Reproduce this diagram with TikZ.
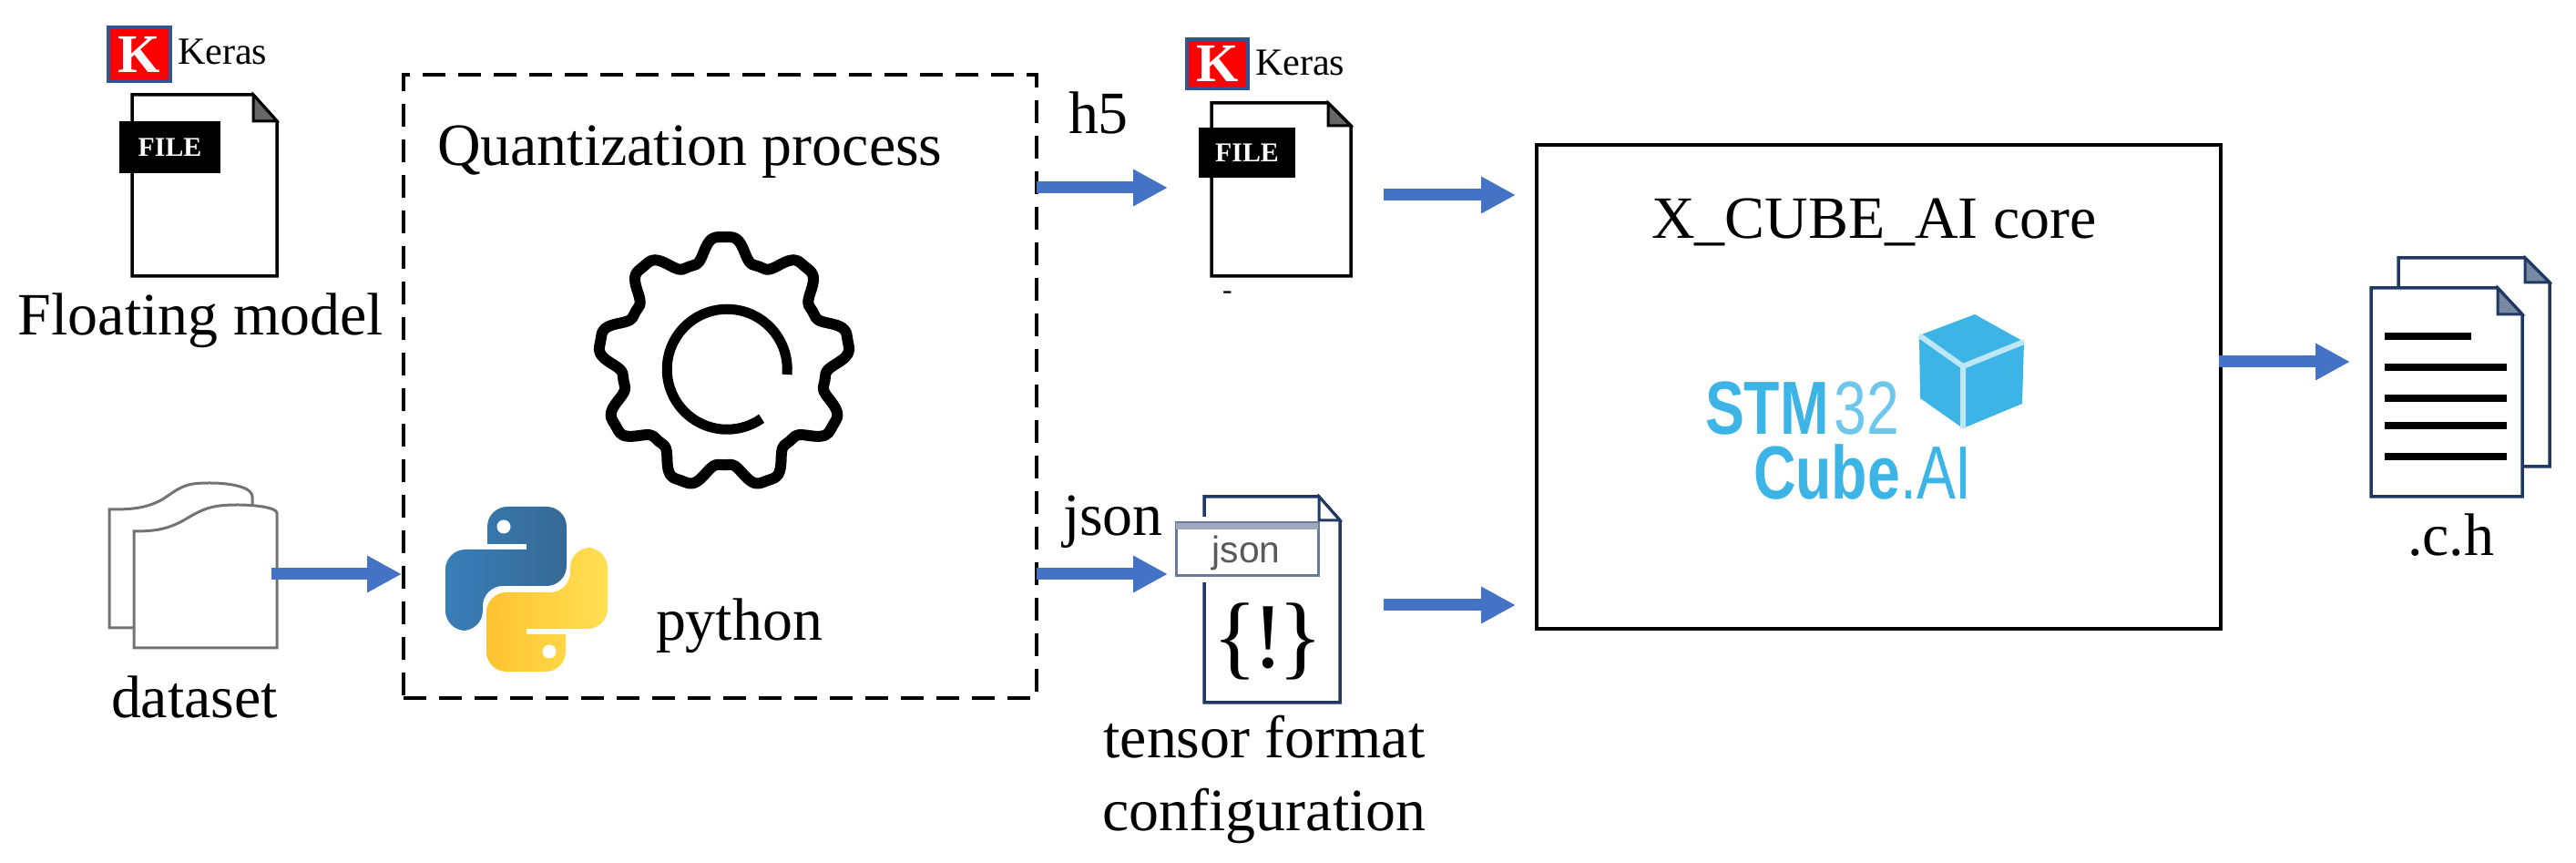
\documentclass[tikz,border=0pt]{standalone}
\usepackage{fontspec}
\setmainfont{Liberation Serif}
\newfontfamily\sansfont{Liberation Sans}
\usetikzlibrary{arrows.meta}

\definecolor{flowblue}{HTML}{4472C4}
\definecolor{navy}{HTML}{1F3864}
\definecolor{kerasblue}{HTML}{2F5597}
\definecolor{tagedge}{HTML}{6B7A99}
\definecolor{tagtop}{HTML}{A0A9BD}
\definecolor{cubeblue}{HTML}{3CB4E6}
\definecolor{cubeedge}{HTML}{BDE6F7}
\definecolor{pyblueA}{HTML}{387EB8}
\definecolor{pyblueB}{HTML}{366994}
\definecolor{pyyellowA}{HTML}{FFC331}
\definecolor{pyyellowB}{HTML}{FFE052}

\tikzset{
    label text/.style={font=\fontsize{18.75}{23}\selectfont,inner sep=0,outer sep=0},
    keras text/.style={font=\fontsize{12}{14}\selectfont,inner sep=0,outer sep=0},
    keras box/.style={draw=kerasblue,fill=red,text=white,line width=.035cm,inner sep=0,outer sep=0,
        font=\fontsize{17}{17}\selectfont\bfseries},
    file tag/.style={fill=black,text=white,inner sep=0,outer sep=0,minimum height=.57cm,
        font=\fontsize{8.5}{9}\selectfont\bfseries},
    page/.style={inner sep=0,outer sep=0},
    flow/.style={-{Triangle[length=.38cm,width=.38cm]},line width=.13cm,color=flowblue},
    logo text/.style={font=\fontsize{23.5}{20.2}\sansfont,text=cubeblue,inner sep=0,outer sep=0,
        align=left,xscale=.78,transform shape},
}

\newcommand{\filepage}[5]{
    \draw[#2,fill=white,line width=.035cm] (#1.south west) -- (#1.north west)
        -- ([xshift=-#3]#1.north east) -- ([yshift=-#4]#1.north east) -- (#1.south east) -- cycle;
    \draw[#2,fill=#5,line width=.03cm] ([xshift=-#3]#1.north east) -- ([xshift=-#3,yshift=-#4]#1.north east)
        -- ([yshift=-#4]#1.north east) -- cycle;
}

\begin{document}
\begin{tikzpicture}
    \useasboundingbox (0,0) rectangle (28.28,9.47);

    \coordinate (h5row) at (0,7.41);
    \coordinate (h5out) at (0,7.33);
    \coordinate (jsonrow) at (0,3.17);
    \coordinate (jsonout) at (0,2.83);
    \coordinate (corerow) at (0,5.50);

    \node[keras box,minimum width=.68cm,minimum height=.59cm] (KerasIn) at (1.53,8.875) {K};
    \node[keras text,anchor=base west] (KerasInText) at (1.95,8.76) {Keras};
    \node[page,minimum width=1.59cm,minimum height=1.99cm] (ModelFile) at (2.245,7.435) {};
    \filepage{ModelFile}{black}{.26cm}{.29cm}{black!60}
    \node[file tag,minimum width=1.11cm] (ModelTag) at (1.865,7.855) {FILE\hspace{.12cm}};
    \node[label text,anchor=base west] (ModelText) at (.20,5.79) {Floating model};

    \node[page,minimum width=1.57cm,minimum height=1.62cm] (Dataset) at (2.255,3.17) {};
    \draw[black!55,line width=.03cm] (1.47,2.58) -- (1.20,2.58) -- (1.20,3.88)
        .. controls (1.40,3.88) and (1.60,3.88) .. (1.80,4.00)
        .. controls (2.00,4.14) and (2.05,4.17) .. (2.30,4.17)
        .. controls (2.55,4.17) and (2.77,4.12) .. (2.77,4.02) -- (2.77,3.88);
    \draw[black!55,fill=white,line width=.03cm] (1.47,2.36) -- (1.47,3.64)
        .. controls (1.70,3.64) and (1.85,3.66) .. (2.05,3.78)
        .. controls (2.25,3.90) and (2.35,3.93) .. (2.61,3.93)
        .. controls (2.80,3.93) and (3.04,3.90) .. (3.04,3.84) -- (3.04,2.36) -- cycle;
    \node[label text,anchor=base west] (DatasetText) at (1.22,1.59) {dataset};

    \node[draw,dash pattern=on .25cm off .14cm,line width=.035cm,outer sep=0,
        minimum width=6.95cm,minimum height=6.84cm] (Quant) at (7.905,5.23) {};
    \node[label text,anchor=base west] (QuantText) at (4.80,7.65) {Quantization process};

    \begin{scope}[shift={(7.95,5.49)}]
        \draw[line width=.12cm] plot[smooth cycle,domain=0:358,samples=180]
            (\x:{1.25+.15*(cos(9*(\x-90))-.15*cos(27*(\x-90)))});
    \end{scope}
    \draw[line width=.11cm] (8.64,5.36) arc[start angle=-5,end angle=305,radius=.66];

    \begin{scope}[shift={(5.78,3.005)}]
        \foreach \ang/\cola/\colb in {0/pyblueA/pyblueB,180/pyyellowA/pyyellowB} {
            \shade[rotate=\ang,left color=\cola,right color=\colb]
                [rounded corners=.22cm] (-.43,.495) -- (-.43,.905) -- (.44,.905) -- (.44,.035)
                -- (-.48,.035) -- (-.48,-.455) -- (-.89,-.455) -- (-.89,.435)
                [sharp corners] -- (0,.435) -- (0,.495) -- cycle;
            \fill[white,rotate=\ang] (-.25,.685) circle (.075);
        }
    \end{scope}
    \node[label text,anchor=base west] (PythonText) at (7.20,2.44) {python};

    \node[label text,anchor=base west] (H5Text) at (11.73,8.00) {h5};
    \node[keras box,minimum width=.67cm,minimum height=.54cm] (KerasOut) at (13.365,8.77) {K};
    \node[keras text,anchor=base west] (KerasOutText) at (13.78,8.64) {Keras};
    \node[page,minimum width=1.53cm,minimum height=1.90cm] (H5File) at (14.065,7.39) {};
    \filepage{H5File}{black}{.25cm}{.25cm}{black!60}
    \node[file tag,minimum width=1.06cm,minimum height=.55cm] (H5Tag) at (13.69,7.795) {FILE\hspace{.1cm}};
    \node[font=\fontsize{9}{9}\selectfont,inner sep=0] (H5Mark) at (13.475,6.23) {-};

    \node[label text,anchor=base west] (JsonText) at (11.67,3.59) {json};
    \node[page,minimum width=1.49cm,minimum height=2.26cm] (JsonFile) at (13.965,2.89) {};
    \filepage{JsonFile}{navy}{.23cm}{.26cm}{white}
    \fill[white] (13.10,3.08) rectangle (13.40,3.80);
    \node[draw=tagedge,fill=white,line width=.03cm,inner sep=0,outer sep=0,
        minimum width=1.56cm,minimum height=.58cm] (JsonTag) at (13.69,3.44) {};
    \fill[tagtop] (JsonTag.north west) rectangle ([yshift=-.07cm]JsonTag.north east);
    \node[anchor=base west,inner sep=0,text=black!65,font=\fontsize{11.6}{12}\sansfont] (JsonTagText) at (13.30,3.29) {json};
    \node[anchor=base,inner sep=0,font=\fontsize{29}{29}\selectfont] (JsonBrace) at (13.92,2.14) {\{\kern-1.5pt!\kern-1.5pt\}};
    \node[label text,anchor=base,align=center] (TensorText) at (13.88,.35) {tensor format\\configuration};

    \node[draw,line width=.04cm,outer sep=0,minimum width=7.51cm,minimum height=5.31cm] (Core) at (20.625,5.225) {};
    \node[label text,anchor=base west] (CoreText) at (18.13,6.85) {X\_CUBE\_AI core};

    \node[logo text,anchor=base west] (StmText) at (18.72,3.99) {\textbf{STM}\kern2pt{\color{cubeblue!75}32}\\\hspace*{.68cm}\textbf{Cube}.AI};
    \fill[cubeblue] (21.07,5.79) -- (21.68,6.02) -- (22.22,5.72) -- (21.55,5.45) -- cycle;
    \fill[cubeblue] (21.07,5.79) -- (21.08,5.10) -- (21.55,4.77) -- (21.55,5.45) -- cycle;
    \fill[cubeblue] (21.55,5.45) -- (21.55,4.77) -- (22.20,5.04) -- (22.22,5.72) -- cycle;
    \draw[cubeedge,line width=.06cm] (21.07,5.79) -- (21.55,5.45) -- (22.22,5.72) (21.55,5.45) -- (21.55,4.77);

    \node[page,minimum width=1.66cm,minimum height=2.29cm] (HeaderFile) at (27.16,5.495) {};
    \filepage{HeaderFile}{navy}{.27cm}{.27cm}{navy!60}
    \node[page,minimum width=1.66cm,minimum height=2.29cm] (SourceFile) at (26.86,5.165) {};
    \filepage{SourceFile}{navy}{.27cm}{.29cm}{navy!60}
    \draw[line width=.085cm] (26.18,5.78) -- (27.13,5.78);
    \foreach \y in {5.44,5.10,4.80,4.46} {
        \draw[line width=.085cm] (26.18,\y) -- (27.52,\y);
    }
    \node[label text,anchor=base west] (SourceText) at (26.43,3.37) {.c.h};

    \draw[flow,shorten <=-.06cm,shorten >=.02cm] (Dataset.east) -- (Quant.west |- Dataset.east);
    \draw[flow,shorten >=.48cm] (Quant.east |- h5row) -- (H5File.west |- h5row);
    \draw[flow,shorten <=.36cm,shorten >=.23cm] (H5File.east |- h5out) -- (Core.west |- h5out);
    \draw[flow,shorten >=.40cm] (Quant.east |- jsonrow) -- (JsonFile.west |- jsonrow);
    \draw[flow,shorten <=.48cm,shorten >=.23cm] (JsonFile.east |- jsonout) -- (Core.west |- jsonout);
    \draw[flow,shorten <=-.02cm,shorten >=.23cm] (Core.east |- corerow) -- (SourceFile.west |- corerow);
\end{tikzpicture}
\end{document}
